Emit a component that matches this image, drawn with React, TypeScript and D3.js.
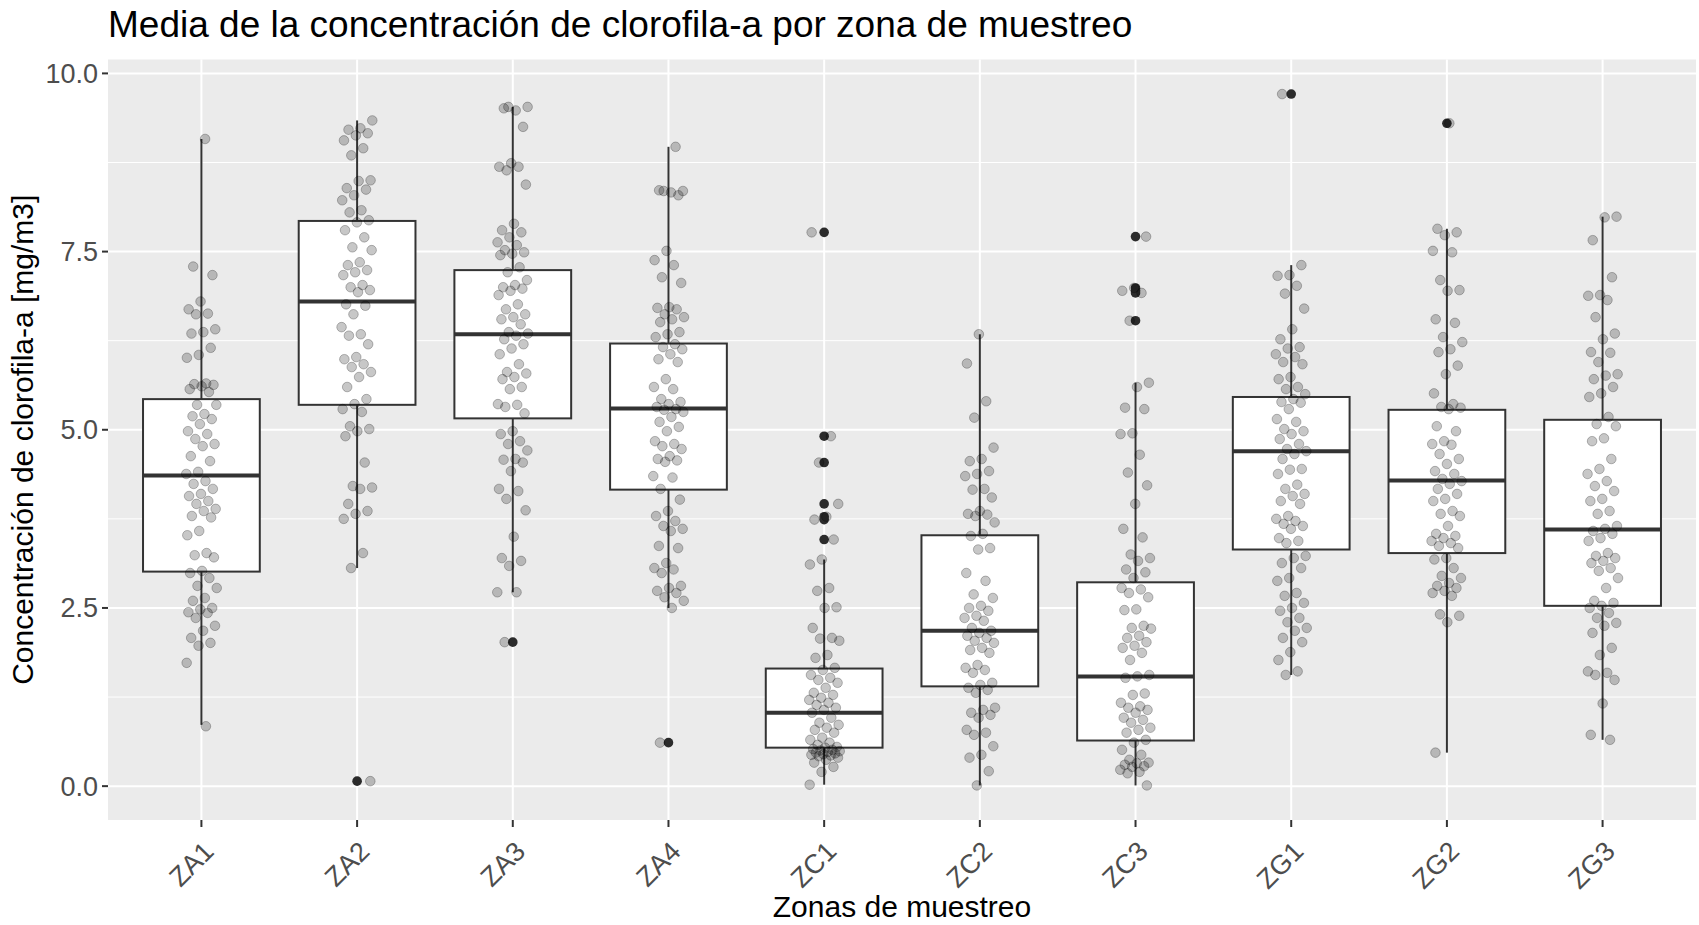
import { extent, format, scaleLinear, scalePoint } from 'd3'

const width = 1699
const height = 925
const margin = { top: 59.5, right: 3, bottom: 105, left: 108 }

const title = 'Media de la concentración de clorofila-a por zona de muestreo'
const xTitle = 'Zonas de muestreo'
const yTitle = 'Concentración de clorofila-a [mg/m3]'

const zones = ['ZA1', 'ZA2', 'ZA3', 'ZA4', 'ZC1', 'ZC2', 'ZC3', 'ZG1', 'ZG2', 'ZG3']
const yTicks = [0, 2.5, 5, 7.5, 10]
const yMinor = [1.25, 3.75, 6.25, 8.75]

// box statistics
const lowerWhisker = [0.86, 3.06, 2.72, 2.5, 0.02, 0.01, 0.01, 1.56, 0.47, 0.65]
const q1 = [3.01, 5.35, 5.16, 4.16, 0.54, 1.4, 0.64, 3.32, 3.27, 2.53]
const median = [4.36, 6.8, 6.34, 5.3, 1.03, 2.18, 1.54, 4.7, 4.29, 3.6]
const q3 = [5.43, 7.93, 7.24, 6.21, 1.65, 3.52, 2.86, 5.46, 5.28, 5.14]
const upperWhisker = [9.08, 9.34, 9.53, 8.97, 3.18, 6.34, 5.66, 7.31, 7.82, 7.99]

const outliers = [
  [],
  [0.07],
  [2.02],
  [0.61],
  [7.77, 4.91, 4.54, 3.96, 3.78, 3.74, 3.46],
  [],
  [7.71, 6.99, 6.95, 6.92, 6.53],
  [9.71],
  [9.3],
  [],
]

// individual samples (jittered points)
const za1 = [
  9.08, 7.29, 7.17, 6.8, 6.69, 6.63, 6.62, 6.41, 6.37, 6.35, 6.15, 6.05, 6.01, 5.65, 5.64, 5.63, 5.61,
  5.57, 5.53, 5.35, 5.35, 5.22, 5.19, 5.15, 5.08, 4.98, 4.94, 4.87, 4.8, 4.77, 4.63, 4.56, 4.41, 4.38,
  4.28, 4.24, 4.17, 4.1, 4.07, 4.0, 3.96, 3.89, 3.86, 3.79, 3.77, 3.58, 3.52, 3.27, 3.24, 3.21, 3.02,
  2.99, 2.92, 2.81, 2.78, 2.64, 2.6, 2.5, 2.48, 2.44, 2.43, 2.36, 2.25, 2.18, 2.08, 2.01, 1.97, 1.73, 0.84,
]
const za2 = [
  9.34, 9.23, 9.21, 9.16, 9.13, 9.06, 8.95, 8.85, 8.5, 8.49, 8.39, 8.37, 8.29, 8.22, 8.08, 8.05, 7.94,
  7.91, 7.8, 7.7, 7.56, 7.52, 7.35, 7.31, 7.24, 7.21, 7.17, 7.03, 7.0, 6.96, 6.93, 6.76, 6.74, 6.62,
  6.44, 6.34, 6.32, 6.2, 6.02, 5.99, 5.92, 5.88, 5.81, 5.74, 5.6, 5.43, 5.36, 5.29, 5.25, 5.05, 5.01,
  4.98, 4.91, 4.54, 4.21, 4.19, 4.17, 3.96, 3.86, 3.82, 3.75, 3.27, 3.06, 0.07,
]
const za3 = [
  9.53, 9.53, 9.48, 9.51, 9.25, 8.74, 8.69, 8.69, 8.64, 8.44, 7.89, 7.8, 7.77, 7.7, 7.63, 7.59, 7.52,
  7.49, 7.47, 7.45, 7.28, 7.21, 7.1, 7.03, 7.0, 6.98, 6.95, 6.89, 6.76, 6.69, 6.62, 6.58, 6.55, 6.48,
  6.37, 6.35, 6.32, 6.27, 6.2, 6.14, 6.06, 5.92, 5.81, 5.79, 5.74, 5.71, 5.6, 5.57, 5.36, 5.35, 5.32,
  5.23, 4.98, 4.94, 4.84, 4.8, 4.71, 4.59, 4.58, 4.54, 4.42, 4.17, 4.14, 4.03, 3.87, 3.5, 3.2, 3.16,
  3.09, 2.72, 2.72, 2.02,
]
const za4 = [
  8.97, 8.35, 8.35, 8.33, 8.36, 8.29, 7.51, 7.38, 7.31, 7.14, 7.06, 6.72, 6.71, 6.69, 6.62, 6.58, 6.55,
  6.51, 6.37, 6.34, 6.3, 6.2, 6.16, 6.13, 6.06, 5.99, 5.95, 5.71, 5.6, 5.57, 5.43, 5.39, 5.36, 5.32,
  5.29, 5.28, 5.25, 5.18, 5.11, 5.04, 4.98, 4.84, 4.8, 4.77, 4.73, 4.63, 4.59, 4.57, 4.55, 4.35, 4.33,
  4.17, 4.02, 3.86, 3.79, 3.72, 3.65, 3.61, 3.58, 3.37, 3.34, 3.13, 3.06, 3.04, 2.99, 2.81, 2.78, 2.74,
  2.71, 2.65, 2.6, 2.5, 0.61,
]
const zc1 = [
  7.77, 4.91, 4.54, 3.96, 3.78, 3.74, 3.46, 3.18, 3.11, 2.78, 2.74, 2.51, 2.5, 2.22, 2.08, 2.07, 2.04,
  1.84, 1.8, 1.66, 1.63, 1.56, 1.52, 1.49, 1.45, 1.38, 1.31, 1.28, 1.24, 1.21, 1.17, 1.14, 1.1, 1.07,
  1.03, 0.96, 0.89, 0.86, 0.82, 0.79, 0.75, 0.68, 0.65, 0.61, 0.58, 0.55, 0.54, 0.52, 0.51, 0.5, 0.49,
  0.48, 0.47, 0.46, 0.45, 0.44, 0.43, 0.42, 0.4, 0.37, 0.33, 0.27, 0.2, 0.02,
]
const zc2 = [
  6.34, 5.93, 5.4, 5.17, 4.75, 4.59, 4.56, 4.42, 4.38, 4.35, 4.17, 4.16, 4.05, 3.86, 3.82, 3.81, 3.79,
  3.7, 3.54, 3.51, 3.34, 3.32, 2.99, 2.88, 2.69, 2.64, 2.53, 2.5, 2.46, 2.39, 2.36, 2.32, 2.22, 2.18,
  2.15, 2.11, 2.08, 2.04, 2.01, 1.94, 1.91, 1.87, 1.7, 1.66, 1.63, 1.59, 1.45, 1.42, 1.38, 1.35, 1.31,
  1.1, 1.07, 1.03, 1.0, 0.96, 0.79, 0.75, 0.72, 0.56, 0.44, 0.4, 0.21, 0.01,
]
const zc3 = [
  7.71, 6.99, 6.95, 6.92, 6.53, 5.66, 5.6, 5.31, 5.29, 4.95, 4.94, 4.65, 4.4, 4.22, 3.96, 3.61, 3.49,
  3.25, 3.2, 3.16, 3.04, 3.0, 2.92, 2.78, 2.76, 2.71, 2.65, 2.48, 2.47, 2.25, 2.22, 2.21, 2.11, 2.08,
  2.02, 1.97, 1.94, 1.87, 1.77, 1.56, 1.54, 1.52, 1.3, 1.28, 1.17, 1.12, 1.1, 1.07, 1.03, 0.96, 0.93,
  0.89, 0.82, 0.79, 0.75, 0.65, 0.61, 0.51, 0.44, 0.37, 0.33, 0.32, 0.3, 0.28, 0.27, 0.23, 0.2, 0.18, 0.01,
]
const zg1 = [
  9.71, 7.31, 7.17, 7.16, 7.02, 6.91, 6.7, 6.41, 6.27, 6.16, 6.14, 6.06, 6.02, 5.95, 5.92, 5.74, 5.71,
  5.6, 5.57, 5.5, 5.43, 5.39, 5.38, 5.29, 5.15, 5.11, 5.01, 4.98, 4.94, 4.87, 4.8, 4.73, 4.7, 4.66,
  4.59, 4.45, 4.44, 4.38, 4.23, 4.17, 4.1, 4.07, 4.0, 3.96, 3.79, 3.75, 3.72, 3.68, 3.65, 3.61, 3.48,
  3.44, 3.41, 3.23, 3.2, 3.13, 3.06, 2.92, 2.88, 2.71, 2.67, 2.57, 2.5, 2.46, 2.36, 2.3, 2.22, 2.18,
  2.08, 2.02, 1.88, 1.77, 1.61, 1.56,
]
const zg2 = [
  9.3, 7.82, 7.77, 7.73, 7.51, 7.49, 7.1, 6.96, 6.95, 6.55, 6.5, 6.3, 6.23, 6.13, 6.09, 5.9, 5.78, 5.51,
  5.36, 5.32, 5.31, 5.29, 5.05, 4.98, 4.84, 4.8, 4.79, 4.66, 4.59, 4.52, 4.42, 4.38, 4.31, 4.28, 4.24,
  4.17, 4.1, 4.03, 4.0, 3.86, 3.82, 3.79, 3.65, 3.54, 3.51, 3.48, 3.44, 3.41, 3.37, 3.34, 3.2, 3.18,
  3.06, 2.95, 2.92, 2.85, 2.81, 2.78, 2.74, 2.71, 2.67, 2.41, 2.39, 2.3, 0.47,
]
const zg3 = [
  7.99, 7.98, 7.66, 7.14, 6.89, 6.88, 6.82, 6.58, 6.35, 6.27, 6.09, 6.08, 5.95, 5.78, 5.76, 5.71, 5.6,
  5.51, 5.46, 5.18, 5.08, 5.05, 4.88, 4.84, 4.59, 4.45, 4.38, 4.28, 4.21, 4.14, 4.03, 4.0, 3.86, 3.82,
  3.65, 3.61, 3.58, 3.54, 3.48, 3.44, 3.27, 3.23, 3.2, 3.16, 3.13, 3.06, 3.02, 2.92, 2.78, 2.6, 2.57,
  2.53, 2.5, 2.43, 2.36, 2.29, 2.25, 2.15, 1.94, 1.84, 1.61, 1.59, 1.56, 1.49, 1.16, 0.72, 0.65,
]

const samples = [za1, za2, za3, za4, zc1, zc2, zc3, zg1, zg2, zg3]

const x = scalePoint()
  .domain(zones)
  .range([margin.left, width - margin.right])
  .padding(0.6)

const [lo, hi] = extent(samples.flat())
const pad = (hi - lo) * 0.05
const y = scaleLinear()
  .domain([lo - pad, hi + pad])
  .range([height - margin.bottom, margin.top])

const step = x.step()
const boxHalf = step * 0.375
const jitterHalf = step * 0.1
// deterministic spread for the jitter (golden-ratio sequence)
const jitter = (i, g) => (((i + 1) * 0.6180339 + g * 0.37) % 1) * 2 - 1

const fmt = format('.1f')
const font = 'Liberation Sans, Arial, sans-serif'

function App() {
  const panelLeft = margin.left
  const panelRight = width - margin.right
  const panelTop = margin.top
  const panelBottom = height - margin.bottom

  return (
    <svg
      width={width}
      height={height}
      style={{ position: 'absolute', left: 0, top: 0, background: '#fff' }}
      fontFamily={font}
    >
      <rect
        x={panelLeft}
        y={panelTop}
        width={panelRight - panelLeft}
        height={panelBottom - panelTop}
        fill="#EBEBEB"
      />
      {yMinor.map((t) => (
        <line key={'mn' + t} x1={panelLeft} x2={panelRight} y1={y(t)} y2={y(t)} stroke="#fff" strokeWidth={1} />
      ))}
      {yTicks.map((t) => (
        <line key={'mj' + t} x1={panelLeft} x2={panelRight} y1={y(t)} y2={y(t)} stroke="#fff" strokeWidth={2} />
      ))}
      {zones.map((z) => (
        <line key={'v' + z} x1={x(z)} x2={x(z)} y1={panelTop} y2={panelBottom} stroke="#fff" strokeWidth={2} />
      ))}

      {/* boxplots */}
      {zones.map((z, i) => {
        const cx = x(z)
        return (
          <g key={'box' + z} stroke="#333333">
            <line x1={cx} x2={cx} y1={y(q3[i])} y2={y(upperWhisker[i])} strokeWidth={2} />
            <line x1={cx} x2={cx} y1={y(q1[i])} y2={y(lowerWhisker[i])} strokeWidth={2} />
            <rect
              x={cx - boxHalf}
              y={y(q3[i])}
              width={boxHalf * 2}
              height={y(q1[i]) - y(q3[i])}
              fill="#fff"
              strokeWidth={2}
            />
            <line x1={cx - boxHalf} x2={cx + boxHalf} y1={y(median[i])} y2={y(median[i])} strokeWidth={4} />
            {outliers[i].map((v, k) => (
              <circle key={k} cx={cx} cy={y(v)} r={4.8} fill="#2b2b2b" stroke="none" />
            ))}
          </g>
        )
      })}

      {/* jittered samples */}
      {zones.map((z, g) => (
        <g key={'pts' + z} fill="#000" fillOpacity={0.22} stroke="#000" strokeOpacity={0.25} strokeWidth={1}>
          {samples[g].map((v, i) => (
            <circle key={i} cx={x(z) + jitter(i, g) * jitterHalf} cy={y(v)} r={4.8} />
          ))}
        </g>
      ))}

      {/* y axis */}
      {yTicks.map((t) => (
        <g key={'yt' + t}>
          <line x1={panelLeft - 6} x2={panelLeft} y1={y(t)} y2={y(t)} stroke="#333333" strokeWidth={2} />
          <text x={panelLeft - 10} y={y(t) + 9.5} textAnchor="end" fontSize={27} fill="#4D4D4D">
            {fmt(t)}
          </text>
        </g>
      ))}

      {/* x axis */}
      {zones.map((z) => (
        <g key={'xt' + z}>
          <line x1={x(z)} x2={x(z)} y1={panelBottom} y2={panelBottom + 7} stroke="#333333" strokeWidth={2} />
          <text
            transform={`translate(${x(z) + 14},${panelBottom + 33}) rotate(-45)`}
            textAnchor="end"
            fontSize={27}
            fill="#4D4D4D"
          >
            {z}
          </text>
        </g>
      ))}

      <text x={(panelLeft + panelRight) / 2} y={917} textAnchor="middle" fontSize={30} fill="#000">
        {xTitle}
      </text>
      <text
        transform={`translate(33,${(panelTop + panelBottom) / 2}) rotate(-90)`}
        textAnchor="middle"
        fontSize={30}
        fill="#000"
      >
        {yTitle}
      </text>
      <text x={panelLeft} y={37} fontSize={37} fill="#000">
        {title}
      </text>
    </svg>
  )
}

export default App
